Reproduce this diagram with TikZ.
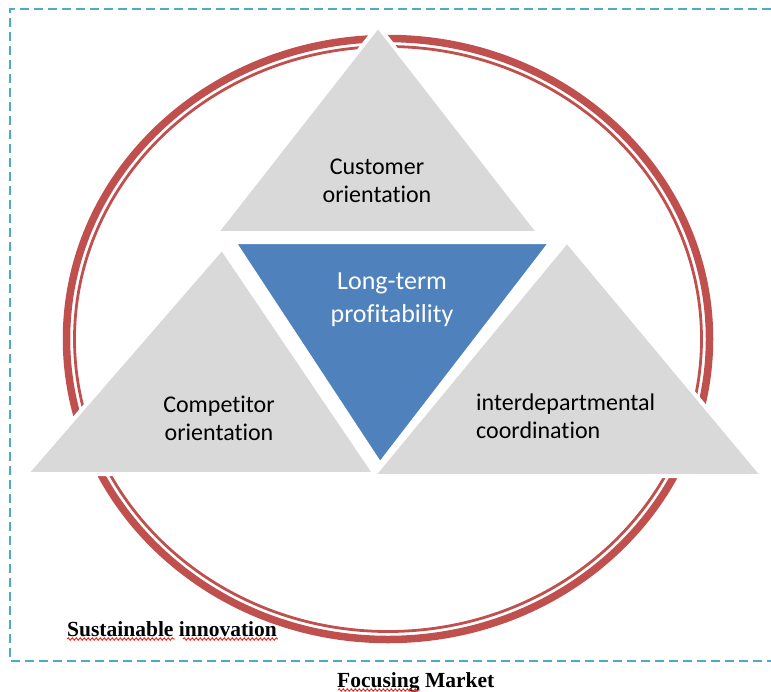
\documentclass[tikz,border=0pt]{standalone}
\usepackage{fontspec}
\setmainfont{Carlito}[Ligatures={NoCommon}]
\newfontfamily\timesfont{Liberation Serif}
\usetikzlibrary{decorations.pathmorphing}

\definecolor{ringred}{HTML}{C0504D}
\definecolor{framecyan}{HTML}{4BACC6}
\definecolor{facegrey}{HTML}{D9D9D9}
\definecolor{faceblue}{HTML}{4F81BD}
\definecolor{spellred}{HTML}{E8281E}

\tikzset{
  facet/.style={draw=white, line width=4pt, line join=miter},
  greylabel/.style={inner sep=0pt, align=center, font=\fontsize{24}{28}\selectfont},
  bluelabel/.style={inner sep=0pt, align=center, text=white, font=\fontsize{26}{33}\selectfont},
  seriflabel/.style={inner sep=0pt, font=\timesfont\bfseries\fontsize{21.5}{24}\selectfont},
  squiggle/.style={spellred, line width=0.9pt, decorate,
    decoration={snake, amplitude=1.2pt, segment length=4pt}}
}

\begin{document}
\begin{tikzpicture}[x=1pt,y=-1pt]
  \useasboundingbox (0,0) rectangle (771,691);

  % dashed frame, open on the right
  \draw[framecyan, line width=1.5pt, dash pattern=on 9pt off 5pt]
    (771,9) -- (10,9) -- (10,661) -- (771,661);

  % double ring
  \coordinate (O) at (388,339);
  \draw[ringred, line width=7.5pt] (O) ellipse (321.5 and 300.5);
  \draw[ringred, line width=2.8pt] (O) ellipse (313.5 and 292.5);

  % corners of the triangles
  \coordinate (T1) at (378,26);
  \coordinate (T2) at (216,233);
  \coordinate (T3) at (539,233);
  \coordinate (L1) at (222,248);
  \coordinate (L2) at (26,474);
  \coordinate (L3) at (375,474);
  \coordinate (R1) at (567,241);
  \coordinate (R2) at (373,476);
  \coordinate (R3) at (763,476);
  \coordinate (B1) at (234,242);
  \coordinate (B2) at (551,242);
  \coordinate (B3) at (380,464);

  \filldraw[facet, fill=facegrey] (T1) -- (T2) -- (T3) -- cycle;
  \filldraw[facet, fill=facegrey] (L1) -- (L2) -- (L3) -- cycle;
  \filldraw[facet, fill=facegrey] (R1) -- (R2) -- (R3) -- cycle;
  \filldraw[facet, fill=faceblue] (B1) -- (B2) -- (B3) -- cycle;

  % labels
  \node[greylabel] (cust) at (377,181) {Customer\\orientation};
  \node[greylabel] (comp) at (219,418) {Competitor\\orientation};
  \node[greylabel, align=left, anchor=west] (inter) at (476,416) {interdepartmental\\coordination};
  \node[bluelabel] (ltp) at (392,300) {Long-term\\profitability};

  \node[seriflabel, anchor=base west] (sust) at (67,636) {Sustainable innovation};
  \node[seriflabel, anchor=base west] (focus) at (337,687) {Focusing Market};

  % spell-check marks
  \draw[squiggle] (67,639) -- (175,639);
  \draw[squiggle] (183,639) -- (278,639);
  \draw[squiggle] (338,690) -- (420,690);
\end{tikzpicture}
\end{document}
